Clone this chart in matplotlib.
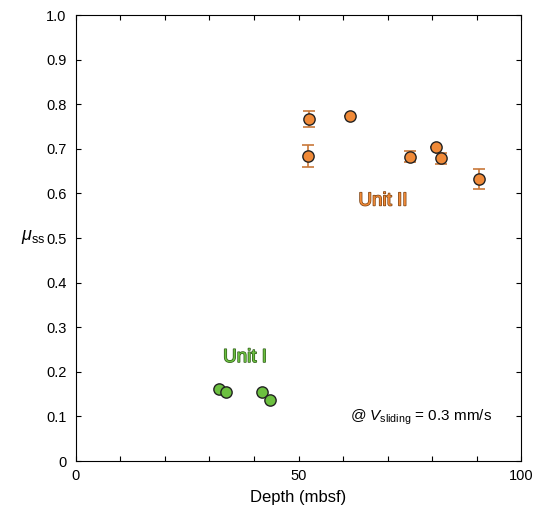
import matplotlib
matplotlib.use("Agg")
import matplotlib.pyplot as plt
import matplotlib.patheffects as pe

plt.rcParams['font.family'] = ['Liberation Sans', 'DejaVu Sans']
plt.rcParams['mathtext.fontset'] = 'custom'
plt.rcParams['mathtext.it'] = 'Liberation Sans:italic'
plt.rcParams['mathtext.rm'] = 'Liberation Sans'

# Unit II (orange)
depth2 = [52.4, 52.1, 61.6, 75.1, 80.9, 82.0, 90.6]
mu2 = [0.767, 0.684, 0.773, 0.682, 0.704, 0.679, 0.632]
err2_lo = [0.018, 0.025, 0.0, 0.012, 0.0, 0.012, 0.022]
err2_hi = [0.018, 0.025, 0.0, 0.012, 0.0, 0.012, 0.022]

# Unit I (green)
depth1 = [32.1, 33.8, 41.8, 43.6]
mu1 = [0.162, 0.154, 0.155, 0.137]

fig = plt.figure(figsize=(5.42, 5.11), dpi=100)
ax = fig.add_axes([0.1402, 0.0978, 0.8211, 0.8728])

ax.errorbar(depth2, mu2, yerr=[err2_lo, err2_hi], fmt="none", ecolor="#c8783a",
            elinewidth=1.2, capsize=4, capthick=1.2, zorder=2)
ax.scatter(depth2, mu2, s=66, color="#f08a38", edgecolor="#222222", linewidth=1.0, zorder=3)
ax.scatter(depth1, mu1, s=66, color="#6cc040", edgecolor="#222222", linewidth=1.0, zorder=3)

ax.text(69.0, 0.583, "Unit II", color="#f08a38", fontsize=13.5, ha="center", va="center",
        path_effects=[pe.withStroke(linewidth=1.0, foreground="#7a4010")])
ax.text(38.0, 0.232, "Unit I", color="#6cc040", fontsize=13.5, ha="center", va="center",
        path_effects=[pe.withStroke(linewidth=1.0, foreground="#2d5a18")])

ax.text(77.5, 0.099, r"@ $V_{\mathrm{sliding}}$ = 0.3 mm/s", fontsize=11, ha="center", va="center")

ax.set_xlim(0, 100)
ax.set_ylim(0, 1.0)
ax.set_xticks(range(0, 101, 10))
ax.set_xticklabels(["0", "", "", "", "", "50", "", "", "", "", "100"])
ax.set_yticks([i / 10 for i in range(11)])
ax.set_yticklabels(["0"] + ["{:.1f}".format(i / 10) for i in range(1, 11)])
ax.tick_params(direction="in", top=True, right=True, length=3.5, width=0.8, labelsize=10.5)
ax.tick_params(axis="y", pad=7)
ax.tick_params(axis="x", pad=6)
ax.set_xlabel("Depth (mbsf)", fontsize=12, labelpad=5)
ax.set_ylabel(r"$\mu_{\mathrm{ss}}$", fontsize=13, rotation=0, ha="center", va="center")
ax.yaxis.set_label_coords(-0.097, 0.502)

fig.savefig("out.png", dpi=100)
